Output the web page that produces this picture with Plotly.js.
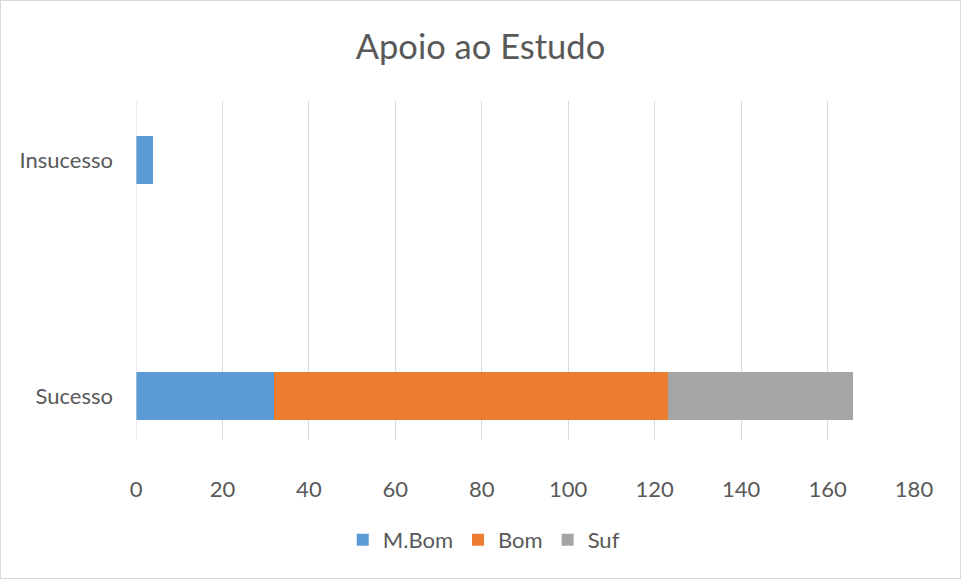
<!DOCTYPE html>
<html>
<head>
<meta charset="UTF-8">
<script src="https://cdn.plot.ly/plotly-3.0.1.min.js"></script>
<style>
	body { margin:0; padding:0; background:#fff; }
	#frame { position:absolute; left:0; top:0; width:961px; height:579px; box-sizing:border-box; border:1px solid #d9d9d9; pointer-events:none; }
</style>
</head>
<body>
<div id="plot" style="width:961px;height:579px;"></div>
<div id="frame"></div>
<script>
	// categories and values
	var categories = ['Sucesso', 'Insucesso'];
	var seriesNames = ['M.Bom', 'Bom', 'Suf'];
	var mBom = [32, 4];
	var bom = [91, 0];
	var suf = [43, 0];
	var xTicks = [0, 20, 40, 60, 80, 100, 120, 140, 160, 180];

	var colors = ['#5B9BD5', '#ED7D31', '#A5A5A5'];
	var values = [mBom, bom, suf];

	var data = [];
	for(var i=0; i<seriesNames.length; i++)
	{
		data.push({
			type: 'bar',
			orientation: 'h',
			name: seriesNames[i],
			x: values[i],
			y: categories,
			width: 0.2,
			marker: {color: colors[i]},
			hoverinfo: 'x+name'
		});
	}

	var layout =
	{
		width: 961,
		height: 579,
		margin: {l: 136, r: 47, t: 101, b: 139},
		paper_bgcolor: '#ffffff',
		plot_bgcolor: '#ffffff',
		font: {family: 'Lato, "Open Sans", sans-serif', size: 22, color: '#595959'},
		title:
		{
			text: 'Apoio ao Estudo',
			font: {size: 34.5, color: '#595959'},
			x: 0.5,
			xanchor: 'center',
			y: 1 - 47/579,
			yanchor: 'middle'
		},
		barmode: 'stack',
		xaxis:
		{
			range: [0, 180],
			tickvals: xTicks,
			showgrid: true,
			gridcolor: '#d9d9d9',
			gridwidth: 1,
			zeroline: false,
			showline: false,
			ticks: '',
			ticklabelstandoff: 34,
			fixedrange: true
		},
		yaxis:
		{
			type: 'category',
			categoryorder: 'array',
			categoryarray: categories,
			range: [-0.186, 1.25],
			showgrid: false,
			zeroline: false,
			showline: false,
			ticks: '',
			ticklabelstandoff: 22,
			fixedrange: true
		},
		shapes: [{
			type: 'line', xref: 'x', yref: 'paper',
			x0: 0, x1: 0, y0: 0, y1: 1,
			line: {color: '#d9d9d9', width: 1}
		}],
		showlegend: true,
		legend:
		{
			orientation: 'h',
			x: 0.447,
			xanchor: 'center',
			y: -100/339,
			yanchor: 'middle',
			itemwidth: 30,
			font: {size: 22, color: '#595959'},
			traceorder: 'normal'
		}
	};

	Plotly.newPlot('plot', data, layout, {displayModeBar: false, staticPlot: true});
</script>
</body>
</html>
